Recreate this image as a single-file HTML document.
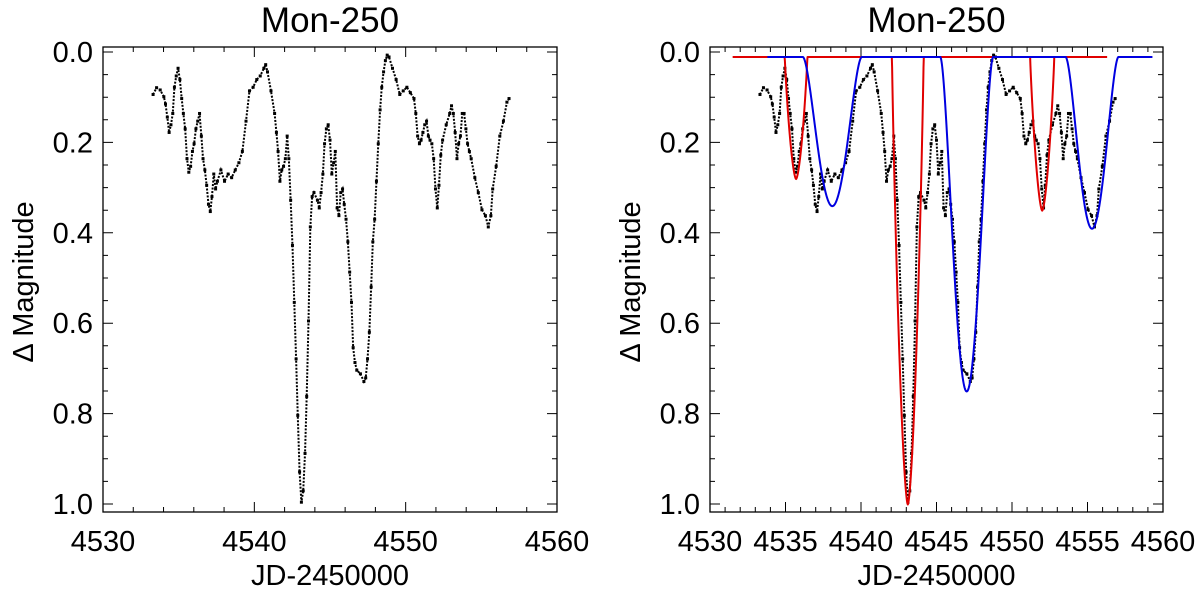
<!DOCTYPE html>
<html><head><meta charset="utf-8"><style>
html,body{margin:0;padding:0;background:#fff;}
svg{display:block;font-family:"Liberation Sans",sans-serif;}
</style></head><body>
<svg id="fig" width="1200" height="591" viewBox="0 0 1200 591" xmlns="http://www.w3.org/2000/svg"></svg>
<script>
const obsJD = [3.31,3.54,3.78,4.02,4.13,4.25,4.37,4.49,4.61,4.72,4.84,4.96,5.08,5.20,5.31,5.43,5.55,5.67,5.79,5.91,6.02,6.14,6.26,6.38,6.50,6.61,6.73,6.85,6.97,7.09,7.20,7.32,7.44,7.56,7.79,8.03,8.27,8.50,8.74,8.98,9.21,9.45,9.68,9.92,10.16,10.39,10.63,10.75,10.87,11.10,11.34,11.46,11.57,11.69,11.81,11.93,12.05,12.17,12.28,12.40,12.52,12.64,12.76,12.87,12.99,13.11,13.23,13.35,13.46,13.58,13.70,13.82,13.94,14.17,14.29,14.41,14.53,14.64,14.76,14.88,15.00,15.12,15.24,15.35,15.47,15.59,15.71,15.83,15.94,16.06,16.18,16.30,16.42,16.53,16.65,16.77,17.01,17.24,17.36,17.48,17.60,17.72,17.83,17.95,18.07,18.19,18.31,18.42,18.54,18.66,18.78,18.90,19.13,19.37,19.61,19.84,20.08,20.31,20.55,20.67,20.79,20.91,21.02,21.14,21.26,21.38,21.50,21.61,21.73,21.85,21.97,22.09,22.20,22.32,22.44,22.68,22.91,23.03,23.15,23.27,23.39,23.50,23.62,23.74,23.86,23.98,24.09,24.21,24.33,24.57,24.80,25.04,25.27,25.46,25.63,25.75,25.98,26.22,26.46,26.69,26.83];
const obsMag = [0.094,0.079,0.084,0.099,0.115,0.144,0.178,0.161,0.136,0.078,0.053,0.036,0.061,0.103,0.136,0.170,0.236,0.266,0.253,0.220,0.203,0.170,0.153,0.136,0.186,0.236,0.261,0.295,0.337,0.353,0.320,0.270,0.303,0.286,0.261,0.286,0.270,0.278,0.261,0.245,0.220,0.153,0.086,0.078,0.061,0.053,0.036,0.028,0.044,0.086,0.136,0.178,0.220,0.286,0.261,0.253,0.236,0.186,0.236,0.328,0.428,0.554,0.679,0.804,0.929,0.996,0.971,0.888,0.762,0.595,0.387,0.320,0.311,0.328,0.345,0.311,0.270,0.203,0.170,0.161,0.195,0.270,0.245,0.220,0.345,0.362,0.311,0.303,0.337,0.370,0.420,0.487,0.554,0.654,0.687,0.704,0.712,0.729,0.721,0.679,0.620,0.520,0.420,0.370,0.286,0.203,0.128,0.078,0.044,0.019,0.007,0.011,0.036,0.061,0.094,0.086,0.078,0.090,0.103,0.136,0.186,0.203,0.195,0.178,0.161,0.153,0.186,0.195,0.203,0.236,0.303,0.345,0.295,0.228,0.195,0.161,0.136,0.119,0.136,0.178,0.236,0.203,0.186,0.136,0.136,0.170,0.203,0.220,0.236,0.278,0.311,0.349,0.362,0.387,0.362,0.303,0.253,0.186,0.153,0.111,0.103];
const redCenters = [4535.7,4543.1,4552.0];
const redHalf = [0.75,1.05,0.8];
const redDepth = [0.27,0.99,0.34];
const redRange = [4531.5,4556.3];
const blueCenters = [4538.1,4547.0,4555.3];
const blueHalf = [1.95,1.75,1.75];
const blueDepth = [0.33,0.74,0.38];
const blueRange = [4533.8,4559.3];
const modelBase = 0.011;
const leftXTicks = [4530,4540,4550,4560];
const rightXTicks = [4530,4535,4540,4545,4550,4555,4560];
const yTicks = [0.0,0.2,0.4,0.6,0.8,1.0];

const NS='http://www.w3.org/2000/svg';
const svg=document.getElementById('fig');
function mk(tag,attrs,parent){const e=document.createElementNS(NS,tag);for(const k in attrs)e.setAttribute(k,attrs[k]);(parent||svg).appendChild(e);return e;}

function panel(px0,px1,xTicks,minorStep,model,pname){
  const top=47,bot=512,y0=52,y1=504;
  const X=v=>px0+(v-4530)/30*(px1-px0);
  const Y=m=>y0+m*(y1-y0);
  const g=mk('g',{});
  
  
  const t=mk('text',{x:(px0+px1)/2,y:32,'font-size':35,'text-anchor':'middle',fill:'#000'},g);
  t.textContent='Mon-250';
  
  
  const fr=mk('rect',{x:px0,y:top,width:px1-px0,height:bot-top,fill:'none',stroke:'#000','stroke-width':1.3},g);
  
  
  let d='';
  for(let v=4530;v<=4560.001;v+=minorStep){
    const x=X(v);const maj=xTicks.some(t=>Math.abs(t-v)<1e-6);const L=maj?10:5;
    d+=`M${x},${bot}v${-L}M${x},${top}v${L}`;
  }
  for(let m=0;m<=1.0001;m+=0.05){
    const y=Y(m);const maj=yTicks.some(t=>Math.abs(t-m)<1e-6);const L=maj?10:5;
    d+=`M${px0},${y}h${L}M${px1},${y}h${-L}`;
  }
  const tk=mk('path',{d:d,stroke:'#000','stroke-width':1,fill:'none'},g);
  
  
  xTicks.forEach(v=>{const e=mk('text',{x:X(v),y:551,'font-size':29,'text-anchor':'middle'},g);e.textContent=v;
    
    });
  yTicks.forEach(v=>{const e=mk('text',{x:px0-10,y:Y(v)+10,'font-size':29,'text-anchor':'end'},g);e.textContent=v.toFixed(1);
    
    });
  const xt=mk('text',{x:(px0+px1)/2,y:585,'font-size':29,'text-anchor':'middle'},g);xt.textContent='JD-2450000';
  
  
  const yt=mk('text',{x:0,y:0,'font-size':29,'text-anchor':'middle',transform:`translate(${px0-70},282) rotate(-90)`},g);yt.textContent='Δ Magnitude';
  
  
  let pd='';
  obsJD.forEach((j,i)=>{pd+=(i?'L':'M')+X(4530+j)+','+Y(obsMag[i]);});
  const ln=mk('path',{d:pd,fill:'none',stroke:'#000','stroke-width':2,'stroke-dasharray':'2 1.5'},g);
  
  
  const dg=mk('g',{fill:'#000'},g);
  
  
  obsJD.forEach((j,i)=>{const c=mk('rect',{x:X(4530+j)-1.5,y:Y(obsMag[i])-1.5,width:3,height:3},dg);
    
    });
  if(model){
    const curve=(range,cs,hs,ds,shape,color,name)=>{
      let p='';let n=0;
      for(let x=range[0];x<=range[1]+1e-9;x+=0.02){
        let m=modelBase;
        cs.forEach((c,k)=>{const u=Math.abs(x-c)/hs[k];if(u<1)m+=ds[k]*shape(u);});
        p+=(n++?'L':'M')+X(x).toFixed(2)+','+Y(m).toFixed(2);
      }
      const e=mk('path',{d:p,fill:'none',stroke:color,'stroke-width':2,'stroke-linejoin':'round'},g);
      
      
    };
    curve(redRange,redCenters,redHalf,redDepth,u=>Math.pow(1-Math.pow(u,1.6),0.9),'#e00000','red-model-curve');
    curve(blueRange,blueCenters,blueHalf,blueDepth,u=>Math.pow(1-u*u,1.8),'#0000e0','blue-model-curve');
  }
}
panel(103,557,leftXTicks,2,false,'left-panel');
panel(710,1163,rightXTicks,1,true,'right-panel');
</script>
</body></html>
